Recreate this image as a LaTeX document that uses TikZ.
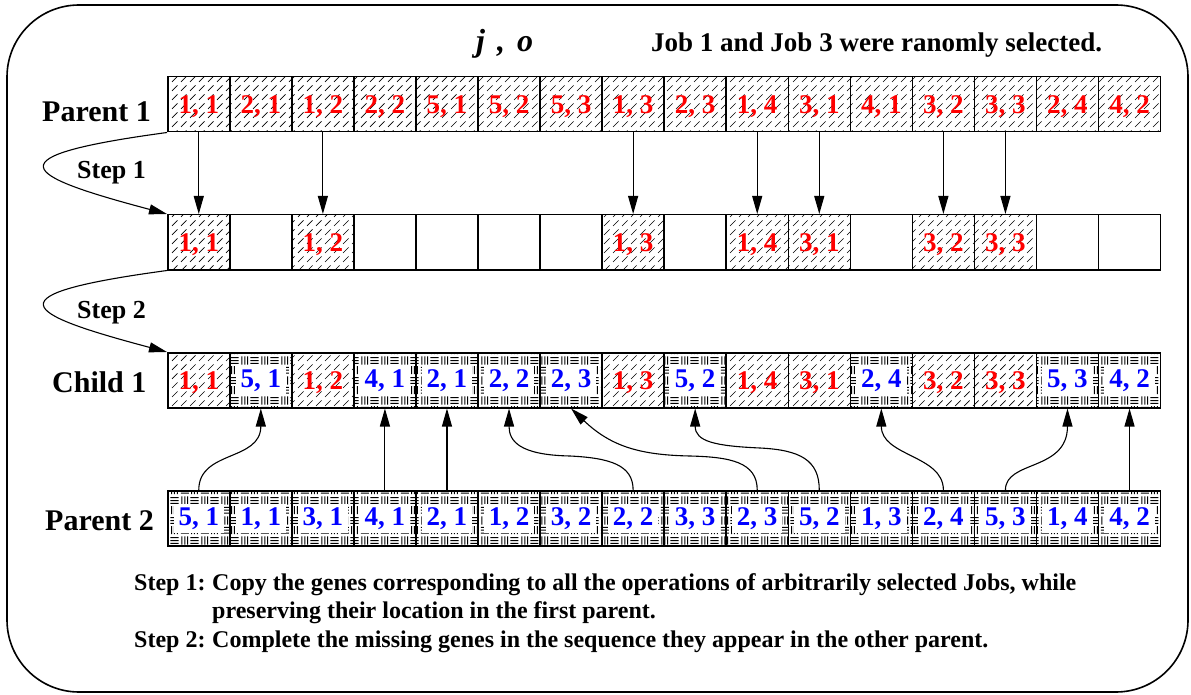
\documentclass[tikz,border=0pt]{standalone}
\usepackage{fontspec}
\setmainfont{Liberation Serif}
\usetikzlibrary{patterns,arrows.meta}

% short dashed diagonal hatching for genes taken from parent 1
\pgfdeclarepatternformonly{dashdiag}{\pgfqpoint{-0.5pt}{-0.5pt}}{\pgfqpoint{9.5pt}{9.5pt}}{\pgfqpoint{9pt}{9pt}}{%
  \pgfsetlinewidth{0.7pt}%
  \pgfpathmoveto{\pgfqpoint{1pt}{1pt}}%
  \pgfpathlineto{\pgfqpoint{6.5pt}{6.5pt}}%
  \pgfusepath{stroke}%
}

% basket weave for genes taken from parent 2
\pgfdeclarepatternformonly{weave}{\pgfpointorigin}{\pgfqpoint{20pt}{20pt}}{\pgfqpoint{20pt}{20pt}}{%
  \pgfsetlinewidth{1pt}%
  % horizontal strokes, lower left block
  \pgfpathmoveto{\pgfqpoint{0.8pt}{2pt}}\pgfpathlineto{\pgfqpoint{9.2pt}{2pt}}%
  \pgfpathmoveto{\pgfqpoint{0.8pt}{5pt}}\pgfpathlineto{\pgfqpoint{9.2pt}{5pt}}%
  \pgfpathmoveto{\pgfqpoint{0.8pt}{8pt}}\pgfpathlineto{\pgfqpoint{9.2pt}{8pt}}%
  % horizontal strokes, upper right block
  \pgfpathmoveto{\pgfqpoint{10.8pt}{12pt}}\pgfpathlineto{\pgfqpoint{19.2pt}{12pt}}%
  \pgfpathmoveto{\pgfqpoint{10.8pt}{15pt}}\pgfpathlineto{\pgfqpoint{19.2pt}{15pt}}%
  \pgfpathmoveto{\pgfqpoint{10.8pt}{18pt}}\pgfpathlineto{\pgfqpoint{19.2pt}{18pt}}%
  % vertical strokes, lower right block
  \pgfpathmoveto{\pgfqpoint{12pt}{0.8pt}}\pgfpathlineto{\pgfqpoint{12pt}{9.2pt}}%
  \pgfpathmoveto{\pgfqpoint{15pt}{0.8pt}}\pgfpathlineto{\pgfqpoint{15pt}{9.2pt}}%
  \pgfpathmoveto{\pgfqpoint{18pt}{0.8pt}}\pgfpathlineto{\pgfqpoint{18pt}{9.2pt}}%
  % vertical strokes, upper left block
  \pgfpathmoveto{\pgfqpoint{2pt}{10.8pt}}\pgfpathlineto{\pgfqpoint{2pt}{19.2pt}}%
  \pgfpathmoveto{\pgfqpoint{5pt}{10.8pt}}\pgfpathlineto{\pgfqpoint{5pt}{19.2pt}}%
  \pgfpathmoveto{\pgfqpoint{8pt}{10.8pt}}\pgfpathlineto{\pgfqpoint{8pt}{19.2pt}}%
  \pgfusepath{stroke}%
}

\tikzset{
  cellbase/.style={rectangle, draw, line width=1.5pt, minimum width=62.05pt,
    minimum height=55pt, inner sep=0pt, anchor=north west},
  cellr/.style={cellbase, pattern=dashdiag},
  cellb/.style={cellbase, pattern=weave},
  celln/.style={cellbase, fill=white},
  gene/.style={font=\bfseries\fontsize{27}{29}\selectfont, inner sep=0pt,
    text height=18pt, text depth=0pt},
  txtr/.style={gene, text=red},
  txtb/.style={gene, text=blue, fill=white, inner xsep=5pt, inner ysep=4pt, text depth=3pt},
  txtn/.style={gene},
  arr/.style={-{Triangle[length=18pt,width=10pt]}, line width=1.1pt},
  rowlab/.style={font=\bfseries\fontsize{30}{32}\selectfont, anchor=base west, inner sep=0pt},
  steplab/.style={font=\bfseries\fontsize{26}{28}\selectfont, anchor=base west, inner sep=0pt},
  note/.style={font=\bfseries\fontsize{24}{26}\selectfont, anchor=base west, inner sep=0pt},
}

\begin{document}
\begin{tikzpicture}[x=1pt, y=-1pt]
\useasboundingbox (0,0) rectangle (1191,695);
\draw[line width=1.6pt, rounded corners=72pt] (7,5) rectangle (1188,692);

% headings
\node[font=\bfseries\itshape\fontsize{32}{34}\selectfont, anchor=base west, inner sep=0pt] (jo) at (476,52) {j\hspace{12pt},\hspace{12pt}o};
\node[font=\bfseries\fontsize{27}{29}\selectfont, anchor=base west, inner sep=0pt] (sel) at (651,52) {Job 1 and Job 3 were ranomly selected.};

% parent 1
\foreach \k/\t [count=\i from 0] in {r/{1, 1},r/{2, 1},r/{1, 2},r/{2, 2},r/{5, 1},r/{5, 2},r/{5, 3},r/{1, 3},r/{2, 3},r/{1, 4},r/{3, 1},r/{4, 1},r/{3, 2},r/{3, 3},r/{2, 4},r/{4, 2}} {
  \node[cell\k] (p1-\i) at ({167+62.05*\i},76) {};
  \node[txt\k] (p1t-\i) at (p1-\i.center) {\t};
}

% genes copied in step 1
\foreach \k/\t [count=\i from 0] in {r/{1, 1},n/{},r/{1, 2},n/{},n/{},n/{},n/{},r/{1, 3},n/{},r/{1, 4},r/{3, 1},n/{},r/{3, 2},r/{3, 3},n/{},n/{}} {
  \node[cell\k] (r2-\i) at ({167+62.05*\i},214) {};
  \node[txt\k] (r2t-\i) at (r2-\i.center) {\t};
}

% child 1
\foreach \k/\t [count=\i from 0] in {r/{1, 1},b/{5, 1},r/{1, 2},b/{4, 1},b/{2, 1},b/{2, 2},b/{2, 3},r/{1, 3},b/{5, 2},r/{1, 4},r/{3, 1},b/{2, 4},r/{3, 2},r/{3, 3},b/{5, 3},b/{4, 2}} {
  \node[cell\k] (c1-\i) at ({167+62.05*\i},352) {};
  \node[txt\k] (c1t-\i) at (c1-\i.center) {\t};
}

% parent 2
\foreach \k/\t [count=\i from 0] in {b/{5, 1},b/{1, 1},b/{3, 1},b/{4, 1},b/{2, 1},b/{1, 2},b/{3, 2},b/{2, 2},b/{3, 3},b/{2, 3},b/{5, 2},b/{1, 3},b/{2, 4},b/{5, 3},b/{1, 4},b/{4, 2}} {
  \node[cell\k] (p2-\i) at ({167+62.05*\i},490) {};
  \node[txt\k] (p2t-\i) at (p2-\i.center) {\t};
}

% row labels
\node[rowlab] (lp1) at (42,122) {Parent 1};
\node[rowlab] (lc1) at (52,392) {Child 1};
\node[rowlab] (lp2) at (45,530) {Parent 2};
\node[steplab] (ls1) at (77,179) {Step 1};
\node[steplab] (ls2) at (77,318) {Step 2};

% step loops
\draw[arr] (p1-0.south west) .. controls +(-177,24) and +(-147,-39) .. (r2-0.north west);
\draw[arr] (r2-0.south west) .. controls +(-177,24) and +(-147,-39) .. (c1-0.north west);

% step 1: copy the genes of jobs 1 and 3
\foreach \i in {0,2,7,9,10,12,13}
  \draw[arr] (p1-\i.south) -- (r2-\i.north);

% step 2: fill the gaps in parent 2 order
\foreach \i in {3,4,15}
  \draw[arr] (p2-\i.north) -- (c1-\i.south);
\draw[arr] (p2-0.north) .. controls +(0,-40) and +(0,53) .. (c1-1.south);
\draw[arr] (p2-7.north) .. controls +(0,-25) and +(40,2) .. (570,456)
  .. controls +(-50,-1) and +(0,33) .. (c1-5.south);
\draw[arr] (p2-9.north) .. controls +(0,-28) and +(40,1) .. (690,456)
  .. controls +(-50,-1) and +(40,38) .. (c1-6.south);
\draw[arr] (p2-10.north) .. controls +(0,-30) and +(40,2) .. (760,448)
  .. controls +(-45,-2) and +(0,33) .. (c1-8.south);
\draw[arr] (p2-12.north) .. controls +(0,-35) and +(0,48) .. (c1-11.south);
\draw[arr] (p2-13.north) .. controls +(0,-30) and +(0,63) .. (c1-14.south);

% notes
\node[note] (n1a) at (134,590) {Step 1:};
\node[note] (n1b) at (212,590) {Copy the genes corresponding to all the operations of arbitrarily selected Jobs, while};
\node[note] (n1c) at (212,618) {preserving their location in the first parent.};
\node[note] (n2a) at (134,647) {Step 2:};
\node[note] (n2b) at (212,647) {Complete the missing genes in the sequence they appear in the other parent.};
\end{tikzpicture}
\end{document}
